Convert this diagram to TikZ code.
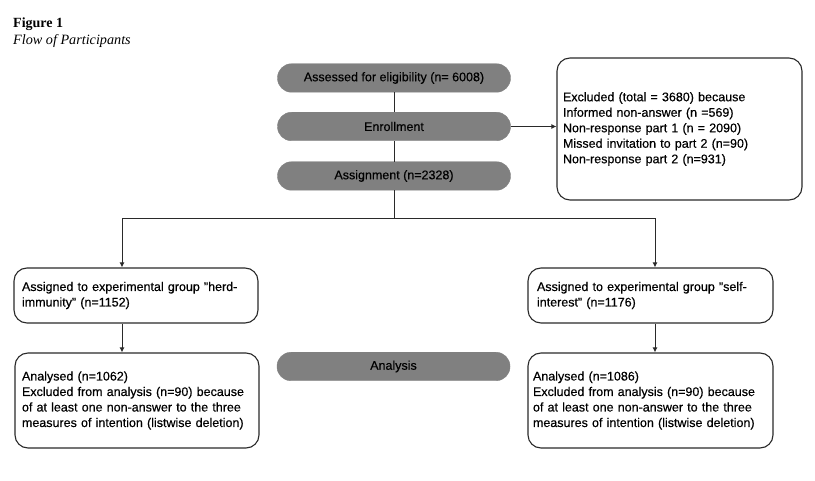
\documentclass[tikz,border=0pt]{standalone}
\usepackage{fontspec}
\setmainfont{Liberation Serif}
\setsansfont[FakeBold=0.4]{Liberation Sans}
\usetikzlibrary{arrows.meta}
\definecolor{pillgray}{HTML}{808080}
\definecolor{linegray}{HTML}{2A2A2A}
\tikzset{
  pill/.style={draw=pillgray, fill=pillgray, rounded corners=14pt, minimum width=233pt, minimum height=28.5pt, inner sep=0pt,
    font=\sffamily\fontsize{12.5}{15}\selectfont, text=black},
  wbox/.style={draw=linegray, line width=1.1pt, fill=white, rounded corners=13pt, align=left, inner ysep=0pt,
    font=\sffamily\fontsize{12.5}{15.5}\selectfont},
  conn/.style={draw=linegray, line width=1pt},
  arr/.style={conn, -{Latex[length=5pt,width=5pt]}},
}
\begin{document}
\begin{tikzpicture}[x=1pt,y=-1pt]
\useasboundingbox (0,0) rectangle (815,481);
\node[anchor=base west, inner sep=0pt, font=\bfseries\fontsize{14}{16}\selectfont] (fig) at (13,27.5) {Figure 1};
\node[anchor=base west, inner sep=0pt, font=\itshape\fontsize{14.2}{16}\selectfont] (cap) at (13,45) {Flow of Participants};

\node[pill] (assess) at (394,78) {Assessed for eligibility (n= 6008)};
\node[pill] (enroll) at (394,126.5) {Enrollment};
\node[pill] (assign) at (394,176) {Assignment (n=2328)};
\node[pill] (analysis) at (393.5,366.5) {Analysis};

\node[wbox, text width=233pt, inner xsep=6pt, minimum height=142pt] (excl) at (679.5,129)
 {Excluded (total = 3680) because\\Informed non-answer (n =569)\\Non-response part 1 (n = 2090)\\Missed invitation to part 2 (n=90)\\Non-response part 2 (n=931)};

\node[wbox, text width=228pt, inner xsep=8pt, minimum height=55pt] (herd) at (136,295.5)
 {Assigned to experimental group "herd-\\immunity" (n=1152)};
\node[wbox, text width=227pt, inner xsep=9pt, minimum height=55pt] (self) at (650.5,295.5)
 {Assigned to experimental group "self-\\interest" (n=1176)};

\node[wbox, text width=230pt, inner xsep=7pt, minimum height=95pt] (anL) at (137,400.5)
 {Analysed (n=1062)\\Excluded from analysis (n=90) because\\of at least one non-answer to the three\\measures of intention (listwise deletion)};
\node[wbox, text width=235pt, inner xsep=5pt, minimum height=95pt] (anR) at (650.5,400.5)
 {Analysed (n=1086)\\Excluded from analysis (n=90) because\\of at least one non-answer to the three\\measures of intention (listwise deletion)};

\coordinate (split) at (394,219);
\coordinate (lt) at (122,219);
\coordinate (rt) at (655,219);

\draw[conn] (assess.south) -- (enroll.north);
\draw[conn] (enroll.south) -- (assign.north);
\draw[arr] (enroll.east) -- (excl.west |- enroll.east);
\draw[conn] (assign.south) -- (split);
\draw[arr] (split) -- (lt) -- (lt |- herd.north);
\draw[arr] (split) -- (rt) -- (rt |- self.north);
\draw[arr] (lt |- herd.south) -- (lt |- anL.north);
\draw[arr] (rt |- self.south) -- (rt |- anR.north);
\end{tikzpicture}
\end{document}
